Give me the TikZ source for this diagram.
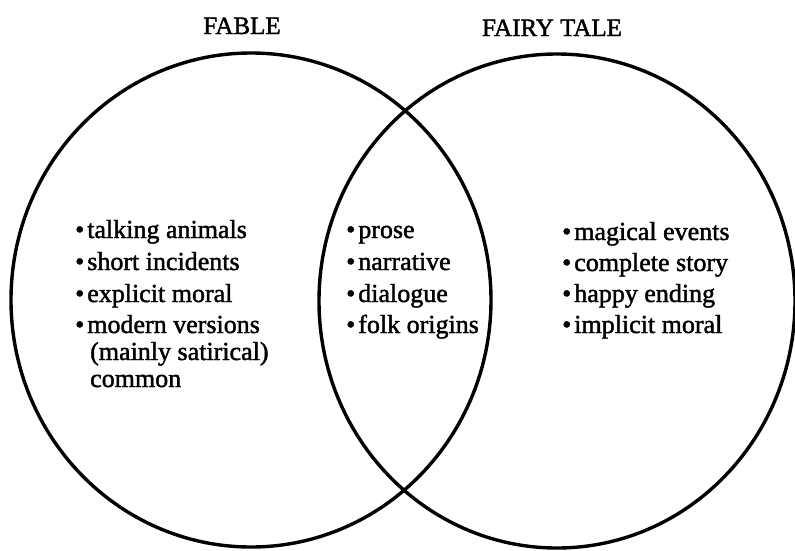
\documentclass[tikz,border=0pt]{standalone}
\usepackage{fontspec}
\setmainfont{Liberation Serif}
\newfontfamily\heavy[FakeBold=1.6]{Liberation Serif}
\begin{document}
\begin{tikzpicture}[x=1pt,y=-1pt,
  ring/.style={line width=3.4pt,black},
  title/.style={anchor=base,inner sep=0pt,font=\heavy\fontsize{25pt}{30pt}\selectfont},
  item/.style={anchor=base west,inner sep=0pt,font=\heavy\fontsize{26pt}{30pt}\selectfont}]
\useasboundingbox (0,0) rectangle (795,550);
% circles
\draw[ring] (251,300) ellipse [x radius=240pt, y radius=247pt];
\draw[ring] (557,301) ellipse [x radius=238pt, y radius=247pt];
% titles
\node[title] (fable) at (242,34) {FABLE};
\node[title] (fairy) at (552,36) {FAIRY TALE};
% left list
\node[item] (l1) at (75,238) {•\kern3pt talking animals};
\node[item] (l2) at (75,270) {•\kern3pt short incidents};
\node[item] (l3) at (75,302) {•\kern3pt explicit moral};
\node[item] (l4) at (75,333) {•\kern3pt modern versions};
\node[item] (l5) at (90,360) {(mainly satirical)};
\node[item] (l6) at (90,387) {common};
% middle list
\node[item] (m1) at (346,238) {•\kern3pt prose};
\node[item] (m2) at (346,270) {•\kern3pt narrative};
\node[item] (m3) at (346,302) {•\kern3pt dialogue};
\node[item] (m4) at (346,333) {•\kern3pt folk origins};
% right list
\node[item] (r1) at (562,240) {•\kern3pt magical events};
\node[item] (r2) at (562,271) {•\kern3pt complete story};
\node[item] (r3) at (562,302) {•\kern3pt happy ending};
\node[item] (r4) at (562,333) {•\kern3pt implicit moral};
\end{tikzpicture}
\end{document}
